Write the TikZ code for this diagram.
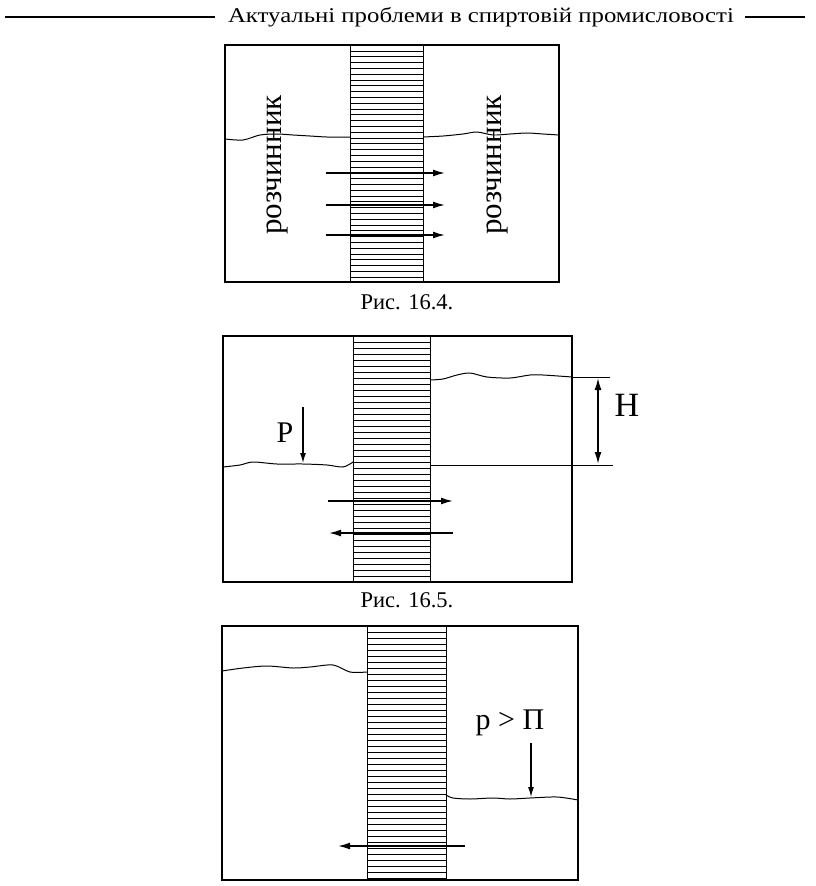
\documentclass[tikz,border=0pt]{standalone}
\usepackage{fontspec}
\setmainfont{Liberation Serif}
\usetikzlibrary{arrows, arrows.meta}
\tikzstyle{vessel}=[draw=black, line width=0.7mm]
\tikzstyle{membrane-line}=[draw=black, line width=0.3mm]
\tikzstyle{surface}=[draw=black, line width=0.35mm]
\tikzstyle{flow}=[-{Latex[length=12pt, width=7pt]}, line width=0.6mm]
\tikzstyle{press}=[-{Latex[length=10pt, width=6pt]}, line width=0.4mm]
\tikzstyle{label-big}=[font=\fontsize{30}{32}\selectfont]
\tikzstyle{label-side}=[font=\fontsize{31}{33}\selectfont, rotate=90]
\tikzstyle{caption}=[font=\fontsize{22.5}{25}\selectfont]

\begin{document}
\begin{tikzpicture}[x=1pt, y=-1pt]
\useasboundingbox (0,0) rectangle (816,886);

% header
\draw [line width=0.5mm] (5,17) -- (215,17);
\draw [line width=0.5mm] (745,17) -- (805,17);
\node [font=\fontsize{21}{22}\selectfont, xscale=1.18] at (481,17) {Актуальні проблеми в спиртовій промисловості};

% Fig. 16.4
\draw [vessel] (225,45) rectangle (559,282);
\foreach \y in {51,56.8,...,281}
	\draw [membrane-line] (350,\y) -- (423,\y);
\draw [membrane-line] (350,45) -- (350,282);
\draw [membrane-line] (423,45) -- (423,282);
\draw [surface] plot [smooth] coordinates {(225,139) (243,140) (260,135) (277,134) (293,135) (310,136) (327,137) (350,137)};
\draw [surface] plot [smooth] coordinates {(423,137) (443,136) (463,134) (477,132) (493,135) (510,134) (527,133) (543,134) (559,135)};
\node [label-side] at (277,165) {розчинник};
\node [label-side] at (497,165) {розчинник};
\foreach \y in {173,205,235}
	\draw [flow] (326,\y) -- (445,\y);
\node [caption] at (407,302) {Рис. 16.4.};

% Fig. 16.5
\draw [vessel] (223,336) rectangle (572,582);
\foreach \y in {342,348,...,581}
	\draw [membrane-line] (353,\y) -- (430,\y);
\draw [membrane-line] (353,336) -- (353,582);
\draw [membrane-line] (430,336) -- (430,582);
\draw [surface] plot [smooth] coordinates {(223,467) (240,465) (253,462) (277,464) (303,464) (327,465) (343,467) (353,462)};
\draw [surface] plot [smooth] coordinates {(430,380) (443,379) (457,375) (470,373) (487,377) (510,378) (530,375) (543,375) (572,377)};
\draw [thin] (572,377) -- (610,377);
\draw [thin] (430,465) -- (613,465);
\draw [{Latex[length=12pt, width=7pt]}-{Latex[length=12pt, width=7pt]}, line width=0.6mm] (598,378) -- (598,464);
\node [font=\fontsize{34}{36}\selectfont] at (627,405) {H};
\draw [press] (303,407) -- (303,463);
\node [label-big] at (285,433) {P};
\draw [flow] (328,501) -- (453,501);
\draw [flow] (453,533) -- (329,533);
\node [caption] at (407,600) {Рис. 16.5.};

% third vessel
\draw [vessel] (222,626) rectangle (578,880);
\foreach \y in {632,638,...,879}
	\draw [membrane-line] (367,\y) -- (446,\y);
\draw [membrane-line] (367,626) -- (367,880);
\draw [membrane-line] (446,626) -- (446,880);
\draw [surface] plot [smooth] coordinates {(222,671) (243,668) (267,666) (293,668) (310,667) (333,665) (350,672) (367,672)};
\draw [surface] plot [smooth] coordinates {(446,795) (453,798) (470,799) (493,798) (510,799) (530,798) (557,797) (578,800)};
\node [label-big] at (510,723) {p > П};
\draw [press] (531,743) -- (531,797);
\draw [flow] (465,846) -- (338,846);
\end{tikzpicture}
\end{document}
